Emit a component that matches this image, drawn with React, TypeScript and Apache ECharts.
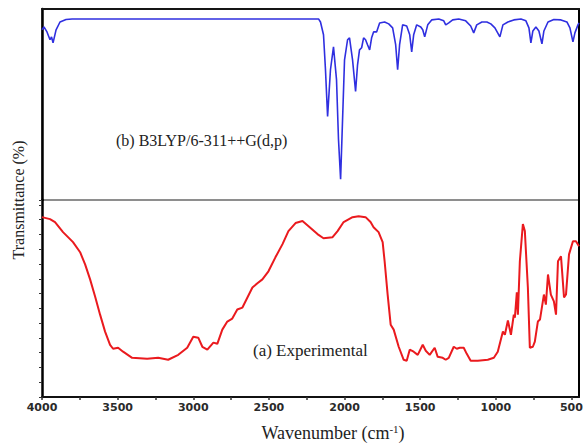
import React, { useEffect, useRef } from "react";
import * as echarts from "echarts";

// (b) B3LYP/6-311++G(d,p) computed spectrum
const blueWavenumber = [
  4000, 3987, 3967, 3947, 3937, 3927, 3907, 3881, 3841, 3801, 3500, 3000, 2500, 2172,
  2159, 2139, 2126, 2112, 2093, 2073, 2053, 2040, 2026, 2013, 2000, 1980, 1967, 1947,
  1927, 1914, 1901, 1887, 1874, 1861, 1848, 1834, 1821, 1808, 1788, 1768, 1735, 1708,
  1682, 1662, 1649, 1636, 1616, 1589, 1569, 1556, 1543, 1523, 1496, 1483, 1470, 1450,
  1424, 1377, 1344, 1331, 1311, 1285, 1245, 1199, 1166, 1146, 1126, 1092, 1059, 1033,
  1006, 973, 953, 920, 881, 834, 801, 781, 768, 755, 735, 715, 695, 682, 655, 616, 569,
  530, 510, 490, 477, 457, 450,
];
const blueTransmittance = [
  89.1, 90.6, 88.0, 83.9, 85.4, 82.3, 89.1, 93.2, 94.5, 94.8, 94.8, 94.8, 94.8, 94.8,
  93.2, 86.5, 68.2, 43.8, 68.2, 80.2, 63.0, 31.8, 10.9, 42.2, 73.4, 83.9, 84.9, 73.4,
  56.8, 70.8, 78.6, 79.7, 84.9, 83.9, 81.3, 78.6, 84.9, 88.0, 88.0, 92.7, 93.2, 92.2,
  90.1, 81.3, 68.2, 81.3, 91.7, 91.1, 86.5, 77.6, 86.5, 91.7, 90.6, 89.1, 85.4, 91.7,
  94.3, 94.8, 93.8, 91.7, 92.7, 94.3, 94.8, 93.8, 91.1, 87.5, 91.7, 93.2, 93.2, 92.2,
  90.1, 85.4, 91.7, 93.2, 94.3, 94.8, 93.8, 90.1, 82.3, 88.5, 90.6, 88.5, 81.8, 88.5,
  93.2, 94.5, 94.3, 93.2, 90.1, 82.8, 87.5, 91.7, 92.7,
];

// (a) Experimental spectrum
const redWavenumber = [
  4000, 3947, 3914, 3861, 3795, 3748, 3715, 3682, 3649, 3616, 3583, 3550, 3530, 3497,
  3464, 3404, 3305, 3232, 3166, 3099, 3040, 3000, 2967, 2940, 2907, 2867, 2841, 2808,
  2775, 2742, 2709, 2675, 2642, 2609, 2576, 2543, 2503, 2457, 2410, 2371, 2324, 2278,
  2238, 2179, 2139, 2079, 2046, 2006, 1947, 1907, 1861, 1828, 1808, 1775, 1748, 1735,
  1715, 1695, 1675, 1642, 1609, 1589, 1569, 1543, 1516, 1483, 1463, 1437, 1404, 1384,
  1351, 1331, 1311, 1278, 1258, 1238, 1212, 1192, 1166, 1119, 1053, 1013, 987, 953,
  940, 920, 900, 881, 874, 861, 854, 841, 821, 808, 788, 775, 755, 742, 722, 708, 682,
  669, 655, 636, 616, 602, 589, 569, 549, 536, 516, 490, 470, 450,
];
const redTransmittance = [
  91.3, 90.3, 88.8, 83.7, 78.6, 73.5, 67.3, 59.7, 51.0, 41.8, 33.2, 26.5, 24.5, 25.0,
  23.0, 19.9, 19.4, 19.9, 18.9, 21.4, 25.0, 30.6, 30.1, 25.5, 24.0, 27.6, 27.0, 34.2,
  38.3, 39.8, 44.4, 45.4, 50.5, 55.6, 57.7, 59.7, 63.8, 70.9, 77.6, 84.2, 88.3, 89.3,
  86.7, 82.7, 80.6, 81.1, 84.2, 88.8, 91.3, 91.8, 91.3, 88.8, 86.2, 83.7, 78.6, 68.9,
  52.0, 36.7, 34.2, 25.5, 18.9, 18.4, 24.0, 23.0, 21.4, 26.5, 23.5, 21.4, 25.0, 20.4,
  19.9, 18.9, 19.9, 25.5, 24.5, 25.0, 25.0, 21.9, 18.4, 18.4, 18.9, 19.9, 23.0, 33.2,
  31.6, 38.8, 31.6, 41.8, 40.3, 53.1, 41.8, 68.9, 87.8, 84.2, 55.6, 25.0, 25.5, 28.1,
  38.3, 39.3, 52.0, 46.9, 62.2, 52.0, 48.5, 41.8, 68.9, 71.4, 50.5, 52.0, 72.4, 79.1,
  79.1, 76.5,
];

const xTickLabels = [4000, 3500, 3000, 2500, 2000, 1500, 1000, 500];
const xTickMarks = [
  4000, 3750, 3500, 3250, 3000, 2750, 2500, 2250, 2000, 1750, 1500, 1250, 1000, 750, 500,
];

const xTitle = "Wavenumber (cm";
const xTitleSup = "-1";
const yTitle = "Transmittance (%)";
const labelB = "(b) B3LYP/6-311++G(d,p)";
const labelA = "(a) Experimental";

const serif = "Liberation Serif";

export default function App() {
  const ref = useRef<HTMLDivElement>(null);

  useEffect(() => {
    if (!ref.current) return;
    const chart = echarts.init(ref.current, null, { renderer: "svg" });
    const blueData = blueWavenumber.map((w, i) => [w, blueTransmittance[i]]);
    const redData = redWavenumber.map((w, i) => [w, redTransmittance[i]]);

    const hiddenY = {
      type: "value",
      min: 0,
      max: 100,
      axisTick: { show: false },
      axisLabel: { show: false },
      splitLine: { show: false },
    };

    chart.setOption({
      animation: false,
      backgroundColor: "#ffffff",
      grid: [
        {
          left: 42,
          right: 4,
          top: 9,
          height: 191,
          show: true,
          borderColor: "#6a6a6a",
          borderWidth: 1.5,
          backgroundColor: "transparent",
          containLabel: false,
          outerBoundsMode: "none",
        },
        {
          left: 42,
          right: 4,
          top: 200,
          height: 197,
          containLabel: false,
          outerBoundsMode: "none",
        },
      ],
      xAxis: [
        {
          gridIndex: 0,
          type: "value",
          min: 450,
          max: 4000,
          inverse: true,
          position: "top",
          axisLine: { show: true, onZero: false, lineStyle: { color: "#151515", width: 2 } },
          axisTick: { show: false },
          axisLabel: { show: false },
          splitLine: { show: false },
        },
        {
          gridIndex: 1,
          type: "value",
          min: 450,
          max: 4000,
          inverse: true,
          position: "bottom",
          axisLine: { show: true, onZero: false, lineStyle: { color: "#111", width: 2 } },
          axisTick: {
            show: true,
            length: 3,
            customValues: xTickMarks,
            lineStyle: { color: "#333", width: 1.5 },
          },
          axisLabel: {
            customValues: xTickLabels,
            formatter: (v: number) => String(v),
            fontSize: 11,
            fontWeight: "bold",
            fontFamily: "DejaVu Sans",
            color: "#2a2a2a",
            margin: 5,
          },
          splitLine: { show: false },
        },
      ],
      yAxis: [
        {
          ...hiddenY,
          gridIndex: 0,
          position: "left",
          axisLine: { show: true, onZero: false, lineStyle: { color: "#000", width: 2.5 } },
        },
        {
          ...hiddenY,
          gridIndex: 0,
          position: "right",
          axisLine: { show: true, onZero: false, lineStyle: { color: "#000", width: 2 } },
        },
        {
          ...hiddenY,
          gridIndex: 1,
          position: "left",
          interval: 7.5,
          axisTick: { show: true, length: 3, lineStyle: { color: "#333", width: 1 } },
          axisLine: { show: true, onZero: false, lineStyle: { color: "#000", width: 2.5 } },
        },
        {
          ...hiddenY,
          gridIndex: 1,
          position: "right",
          axisLine: { show: true, onZero: false, lineStyle: { color: "#000", width: 2 } },
        },
      ],
      series: [
        {
          type: "line",
          name: labelB,
          xAxisIndex: 0,
          yAxisIndex: 0,
          data: blueData,
          showSymbol: false,
          lineStyle: { color: "#2f2fe0", width: 1.6 },
        },
        {
          type: "line",
          name: labelA,
          xAxisIndex: 1,
          yAxisIndex: 2,
          data: redData,
          showSymbol: false,
          lineStyle: { color: "#ea1a1e", width: 2 },
        },
      ],
      graphic: [
        {
          type: "text",
          left: 116,
          top: 132,
          style: { text: labelB, fontSize: 16, fontFamily: serif, fill: "#222" },
        },
        {
          type: "text",
          left: 253,
          top: 342,
          style: { text: labelA, fontSize: 17, fontFamily: serif, fill: "#222" },
        },
        {
          type: "text",
          x: 18,
          y: 200,
          rotation: Math.PI / 2,
          style: {
            text: yTitle,
            fontSize: 16,
            fontFamily: serif,
            fill: "#222",
            align: "center",
            verticalAlign: "middle",
          },
        },
        {
          type: "text",
          x: 333,
          y: 433,
          style: {
            text: `{a|${xTitle}}{s|${xTitleSup}}{a|)}`,
            align: "center",
            verticalAlign: "middle",
            rich: {
              a: { fontSize: 18, fontFamily: serif, fill: "#222", color: "#222" },
              s: {
                fontSize: 11,
                fontFamily: serif,
                fill: "#222",
                color: "#222",
                padding: [0, 0, 8, 0],
              },
            },
          },
        },
      ],
    });
    return () => chart.dispose();
  }, []);

  return (
    <div
      ref={ref}
      style={{ position: "fixed", left: 0, top: 0, width: 583, height: 445 }}
    />
  );
}
